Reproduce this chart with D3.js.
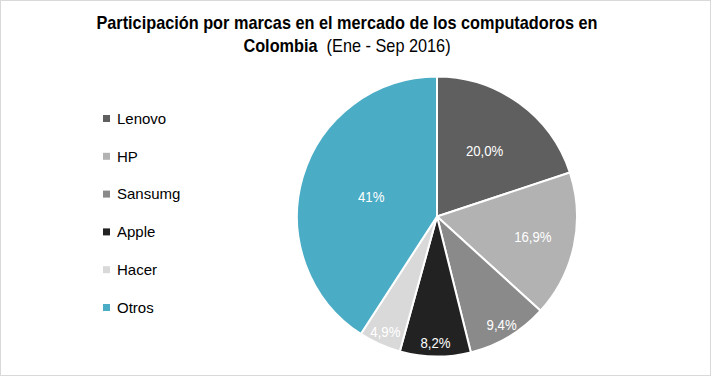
<!DOCTYPE html>
<html>
<head>
<meta charset="utf-8">
<script src="https://cdn.jsdelivr.net/npm/d3@7"></script>
<style>
  body { margin: 0; background: #fff; }
  svg { display: block; }
</style>
</head>
<body>
<div id="chart"></div>
<script>
const brands = ["Lenovo", "HP", "Sansumg", "Apple", "Hacer", "Otros"];
const shares = [20.0, 16.9, 9.4, 8.2, 4.9, 41];
const shareLabels = ["20,0%", "16,9%", "9,4%", "8,2%", "4,9%", "41%"];
const colors = ["#5f5f5f", "#b2b2b2", "#8a8a8a", "#222222", "#d9d9d9", "#4aacc5"];

const width = 711, height = 376;
const cx = 437, cy = 216.5, radius = 140;
const font = "'Liberation Sans', Arial, sans-serif";

const svg = d3.select("#chart")
    .append("svg")
    .attr("width", width)
    .attr("height", height);

// outer frame
svg.append("rect")
    .attr("x", 0.5).attr("y", 0.5)
    .attr("width", width - 1).attr("height", height - 1)
    .attr("fill", "#fff")
    .attr("stroke", "#d9d9d9");

// title (squeezed a bit, the original uses a condensed rendering)
const title = svg.append("text")
    .attr("transform", "translate(347,0) scale(0.857,1)")
    .attr("text-anchor", "middle")
    .style("font-family", font)
    .style("font-size", "19px")
    .attr("fill", "#000");
title.append("tspan")
    .attr("x", 0).attr("y", 29.5)
    .style("font-weight", "bold")
    .text("Participación por marcas en el mercado de los computadoros en");
const t2 = title.append("tspan").attr("x", 0).attr("y", 52.5);
t2.append("tspan").style("font-weight", "bold").text("Colombia");
t2.append("tspan").text("\u00a0 (Ene - Sep 2016)");

const color = d3.scaleOrdinal().domain(brands).range(colors);

const pie = d3.pie().sort(null).value(d => d.v);
const arcs = pie(brands.map((b, i) => ({ name: b, v: shares[i], label: shareLabels[i] })));

const arc = d3.arc().innerRadius(0).outerRadius(radius);

const g = svg.append("g").attr("transform", `translate(${cx},${cy})`);

g.selectAll("path")
    .data(arcs)
    .enter().append("path")
    .attr("d", arc)
    .attr("fill", d => color(d.data.name))
    .attr("stroke", "#fff")
    .attr("stroke-width", 2)
    .attr("stroke-linejoin", "round");

// labels sit closer to the rim for thin slices, like Excel's best fit
function labelRadius(d) {
    const frac = (d.endAngle - d.startAngle) / (2 * Math.PI);
    if (frac > 0.3) return radius * 0.49;
    if (frac > 0.18) return radius * 0.58;
    if (frac > 0.12) return radius * 0.7;
    return radius * 0.9;
}

g.selectAll("text.lbl")
    .data(arcs)
    .enter().append("text")
    .attr("class", "lbl")
    .attr("transform", d => {
        const r = labelRadius(d);
        const a = (d.startAngle + d.endAngle) / 2;
        return `translate(${Math.sin(a) * r},${-Math.cos(a) * r}) scale(0.88,1)`;
    })
    .attr("text-anchor", "middle")
    .attr("dy", "0.35em")
    .style("font-family", font)
    .style("font-size", "15px")
    .attr("fill", "#fff")
    .text(d => d.data.label);

// legend
const legend = svg.selectAll(".legend")
    .data(brands)
    .enter().append("g")
    .attr("class", "legend")
    .attr("transform", (d, i) => `translate(103,${118.5 + i * 37.8})`);

legend.append("rect")
    .attr("x", 0)
    .attr("y", -3.5)
    .attr("width", 7)
    .attr("height", 7)
    .attr("fill", d => color(d));

legend.append("text")
    .attr("x", 14)
    .attr("dy", "0.35em")
    .style("font-family", font)
    .style("font-size", "15px")
    .attr("fill", "#000")
    .text(d => d);
</script>
</body>
</html>
